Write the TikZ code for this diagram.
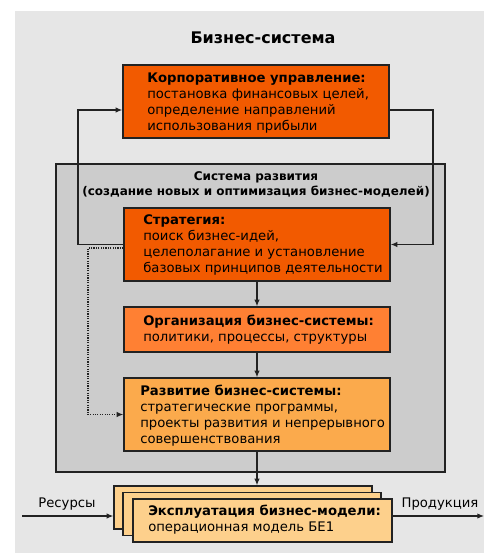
\documentclass[tikz,border=0pt]{standalone}
\usepackage{fontspec}
\setmainfont{DejaVu Sans}
\usetikzlibrary{arrows.meta}
\definecolor{bgout}{HTML}{E6E6E6}
\definecolor{bgin}{HTML}{CCCCCC}
\definecolor{cOrange}{HTML}{F25A00}
\definecolor{cOrg}{HTML}{FF8033}
\definecolor{cDev}{HTML}{FBAA4C}
\definecolor{cOps}{HTML}{FDD08C}
\definecolor{edge}{HTML}{222222}
\tikzset{
  box/.style={draw=edge, line width=1pt, rectangle, inner sep=0pt},
  txt/.style={anchor=west, align=left, inner sep=0pt, font=\fontsize{9.9}{12}\selectfont},
  arr/.style={draw=edge, line width=0.8pt, -{Latex[length=5pt,width=4pt]}},
}
\begin{document}
\begin{tikzpicture}[x=0.75pt,y=-0.75pt]
\useasboundingbox (0,0) rectangle (484,554);
\fill[bgout] (15,11) rectangle (484,553);
\node[font=\bfseries\fontsize{12}{14}\selectfont] (title) at (263,38) {Бизнес-система};
% corporate
\node[box, fill=cOrange, minimum width=266*0.75pt, minimum height=73*0.75pt] (corp) at (256,101.5) {};
\node[txt] (corpt) at (147,103) {\textbf{Корпоративное управление:}\\постановка финансовых целей,\\определение направлений\\использования прибыли};
% development system
\node[box, fill=bgin, minimum width=389*0.75pt, minimum height=308*0.75pt] (sys) at (250.5,318) {};
\node[align=center, inner sep=0pt, font=\bfseries\fontsize{9}{11.5}\selectfont] (syst) at (256,184.5) {Система развития\\(создание новых и оптимизация бизнес-моделей)};
% strategy
\node[box, fill=cOrange, minimum width=266*0.75pt, minimum height=73*0.75pt] (strat) at (257,244.5) {};
\node[txt] (stratt) at (143,245) {\textbf{Стратегия:}\\поиск бизнес-идей,\\целеполагание и установление\\базовых принципов деятельности};
% organisation
\node[box, fill=cOrg, minimum width=266*0.75pt, minimum height=45*0.75pt] (org) at (257,329.5) {};
\node[txt] (orgt) at (143,330) {\textbf{Организация бизнес-системы:}\\политики, процессы, структуры};
% development
\node[box, fill=cDev, minimum width=266*0.75pt, minimum height=73*0.75pt] (dev) at (257,414.5) {};
\node[txt] (devt) at (140,416) {\textbf{Развитие бизнес-системы:}\\стратегические программы,\\проекты развития и непрерывного\\совершенствования};
% operations stack
\node[box, fill=cOps, minimum width=258*0.75pt, minimum height=43*0.75pt] (back) at (243,507.5) {};
\node[box, fill=cOps, minimum width=258*0.75pt, minimum height=43*0.75pt] (mid) at (252,514) {};
\node[box, fill=cOps, minimum width=259*0.75pt, minimum height=43*0.75pt] (front) at (262.5,520.5) {};
\node[txt] (frontt) at (148,520) {\textbf{Эксплуатация бизнес-модели:}\\операционная модель БЕ1};
% labels
\node[inner sep=0pt, font=\fontsize{9.9}{12}\selectfont] (res) at (67,504) {Ресурсы};
\node[inner sep=0pt, font=\fontsize{9.9}{12}\selectfont] (prod) at (440,504) {Продукция};
\coordinate (resin) at (22,516);
\coordinate (prodout) at (484,516);
\draw[arr] (resin) -- (back.west |- resin);
\draw[arr] (front.east |- prodout) -- (prodout);
% vertical flow
\draw[arr] (strat.south) -- (org.north);
\draw[arr] (org.south) -- (dev.north);
\draw[arr] (dev.south) -- (back.north -| dev.south);
% feedback loops
\coordinate (fbL) at (78,110);
\coordinate (fbR) at (433,110);
\coordinate (fbD) at (88,248);
\draw[arr] (strat.west) -| (fbL) -- (corp.west |- fbL);
\draw[arr] (corp.east |- fbR) -- (fbR) |- (strat.east);
\draw[arr, densely dotted] (strat.west |- fbD) -- (fbD) |- (dev.west);
\end{tikzpicture}
\end{document}
